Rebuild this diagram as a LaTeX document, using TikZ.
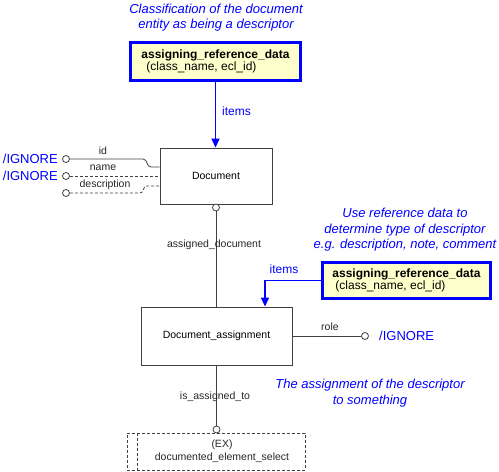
\documentclass[tikz,border=0pt]{standalone}
\usepackage{fontspec}
\setmainfont{Liberation Sans}
\usetikzlibrary{arrows.meta,calc}
\definecolor{ublue}{RGB}{0,0,255}
\definecolor{refyellow}{RGB}{255,255,204}
\definecolor{lgray}{RGB}{64,64,64}
\begin{document}
\begin{tikzpicture}[x=1pt,y=-1pt,
  entity/.style={draw=lgray, line width=0.9pt, fill=white, inner sep=0pt, font=\fontsize{10.5}{12}\selectfont},
  refbox/.style={draw=ublue, line width=3pt, fill=refyellow, align=left, inner sep=0pt, font=\fontsize{12}{12.5}\selectfont},
  capt/.style={text=ublue, font=\itshape\fontsize{13}{15.5}\selectfont, align=center},
  ign/.style={text=ublue, font=\fontsize{13}{15}\selectfont, inner sep=0pt},
  lbl/.style={font=\fontsize{10.5}{12}\selectfont, text=black!85, inner sep=0pt},
  bluelbl/.style={text=ublue, font=\fontsize{12}{14}\selectfont, inner sep=0pt},
  opt/.style={circle, draw=lgray, line width=0.8pt, fill=white, minimum size=7pt, inner sep=0pt},
  conn/.style={draw=lgray, line width=0.8pt},
  dashconn/.style={conn, dash pattern=on 3pt off 2pt},
  itemarrow/.style={draw=ublue, line width=1.6pt, -{Triangle[length=9pt,width=8pt]}}
]
\useasboundingbox (0,0) rectangle (499,472);

% captions
\node[capt] (cap1) at (216,17.5) {Classification of the document\\entity as being a descriptor};
\node[capt] (cap2) at (405,230) {Use reference data to\\determine type of descriptor\\e.g. description, note, comment};
\node[capt] (cap3) at (370,393) {The assignment of the descriptor\\to something};

% reference boxes
\node[refbox, minimum width=170pt, minimum height=38pt] (ref1) at (215.5,61.5)
  {\textbf{assigning\_reference\_data}\\\hspace*{5pt}(class\_name, ecl\_id)};
\node[refbox, minimum width=168pt, minimum height=36pt] (ref2) at (406.5,280.5)
  {\textbf{assigning\_reference\_data}\\\hspace*{3pt}(class\_name, ecl\_id)};

% entities
\node[entity, minimum width=112pt, minimum height=56pt] (doc) at (216,176) {Document};
\node[entity, minimum width=151pt, minimum height=58pt] (da) at (216.5,336) {Document\_assignment};
\node[draw=lgray, line width=0.8pt, dash pattern=on 3pt off 2pt, minimum width=178pt, minimum height=37pt, inner sep=0pt] (ex) at (216,451.5) {};
\node[lbl, align=center, font=\fontsize{10.5}{13}\selectfont] (extext) at (222,451.5) {(EX)\\documented\_element\_select};
\coordinate (exsplit) at ($(ex.north west)+(11,0)$);
\draw[dashconn] (exsplit) -- (exsplit |- ex.south);

% attribute circles
\node[opt] (cid) at (66,159) {};
\node[opt] (cname) at (66,176) {};
\node[opt] (cdesc) at (66,193) {};
\node[ign, anchor=east] (ig1) at (58,158.5) {/IGNORE};
\node[ign, anchor=east] (ig2) at (58,176) {/IGNORE};

\draw[conn] (cid) -- (143,159) .. controls (148,159) and (146,167) .. (151,167) -- ([yshift=9pt]doc.west);
\draw[dashconn] (cname) -- (cname -| doc.west);
\draw[dashconn] (cdesc) -- (140,193) .. controls (145,193) and (142,186) .. (147,186) -- ([yshift=-10pt]doc.west);
\node[lbl] (lid) at (103,151) {id};
\node[lbl] (lname) at (103,168) {name};
\node[lbl] (ldesc) at (105,185) {description};

% items arrows
\draw[itemarrow] (ref1.south) -- (ref1.south |- doc.north);
\node[bluelbl, anchor=west] (it1) at (222,111) {items};
\draw[itemarrow] (ref2.west) -| ([xshift=48.5pt]da.north);
\node[bluelbl] (it2) at (284,269) {items};

% doc -> assignment
\node[opt] (c1) at (216,207.5) {};
\draw[conn] (c1.south) -- (c1.south |- da.north);
\node[lbl] (lad) at (214,245) {assigned\_document};

% role
\node[opt] (crole) at (365,336) {};
\draw[conn] (da.east) -- (crole);
\node[lbl] (lrole) at (330,327) {role};
\node[ign, anchor=west] (ig3) at (379,336) {/IGNORE};

% assignment -> EX
\node[opt] (c2) at (216.5,429.5) {};
\draw[conn] (da.south) -- (c2);
\node[lbl] (lis) at (215,397) {is\_assigned\_to};
\end{tikzpicture}
\end{document}
